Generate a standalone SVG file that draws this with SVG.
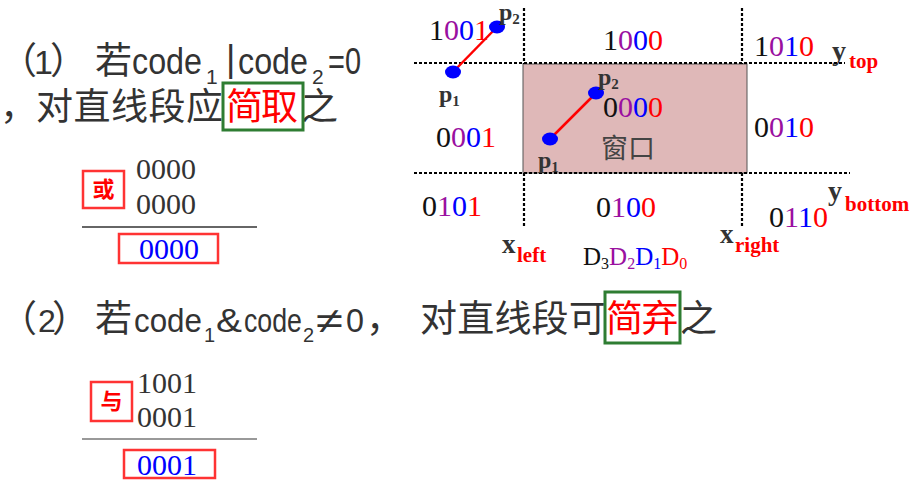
<svg xmlns="http://www.w3.org/2000/svg" width="916" height="493" viewBox="0 0 916 493">
<style>
.cjk{font-family:"Noto Sans CJK SC","Noto Sans",sans-serif;fill:#333}
.lat{font-family:"Liberation Sans",Arial,sans-serif;fill:#333}
.ser{font-family:"Liberation Serif","Times New Roman",serif}
.num{font-family:"Liberation Serif","Times New Roman",serif;font-size:30px}
.bold{font-family:"Liberation Serif","Times New Roman",serif;font-weight:bold;fill:#333}
.red{fill:#ff0000}
.pur{fill:#9a10a0}
.blu{fill:#0000ff}
.blk{fill:#111}
.dash{stroke:#000;stroke-width:2.2;stroke-dasharray:3 2;fill:none}
.seg{stroke:#ff0000;stroke-width:2.5}
.pt{fill:#0000ff}
.gbox{fill:none;stroke:#2e7d32;stroke-width:3}
.rbox{fill:none;stroke:#ff3333;stroke-width:2.5}
</style>

<g id="text-rule1">
  <text class="cjk" x="0" y="74" font-size="37">（</text>
  <text class="lat" x="34" y="74" font-size="34">1</text>
  <text class="cjk" x="50" y="74" font-size="37">）</text>
  <text class="cjk" x="95" y="74" font-size="37">若</text>
  <text class="lat" x="132" y="74" font-size="36" textLength="70" lengthAdjust="spacingAndGlyphs">code</text>
  <text class="lat" x="206" y="84" font-size="21">1</text>
  <text class="lat" x="226" y="71" font-size="36">|</text>
  <text class="lat" x="238" y="74" font-size="36" textLength="70" lengthAdjust="spacingAndGlyphs">code</text>
  <text class="lat" x="312" y="84" font-size="21">2</text>
  <text class="lat" x="328" y="74" font-size="36" textLength="33" lengthAdjust="spacingAndGlyphs">=0</text>
  <text class="cjk" x="0 36 73.5 111 148.5 186" y="120" font-size="37">，对直线段应</text>
  <text class="cjk red" x="226 261" y="120" font-size="37">简取</text>
  <text class="cjk" x="301" y="120" font-size="37">之</text>
  <rect class="gbox" x="223" y="83" width="80" height="47"/>
</g>

<g id="calc-or">
  <rect class="rbox" x="83" y="171" width="41" height="37"/>
  <text class="cjk red" x="103.5" y="197" font-size="22" font-weight="bold" text-anchor="middle">或</text>
  <text class="num" x="136" y="179" fill="#333">0000</text>
  <text class="num" x="136" y="214" fill="#333">0000</text>
  <line x1="82" y1="227" x2="257" y2="227" stroke="#333" stroke-width="1.5"/>
  <rect class="rbox" x="119" y="234" width="99" height="29"/>
  <text class="num blu" x="139" y="259">0000</text>
</g>

<g id="text-rule2">
  <text class="cjk" x="0" y="332" font-size="37">（</text>
  <text class="lat" x="38" y="332" font-size="32">2</text>
  <text class="cjk" x="52" y="332" font-size="37">）</text>
  <text class="cjk" x="95" y="332" font-size="37">若</text>
  <text class="lat" x="134" y="332" font-size="34" textLength="68" lengthAdjust="spacingAndGlyphs">code</text>
  <text class="lat" x="204" y="342" font-size="20">1</text>
  <text class="lat" x="216" y="332" font-size="34" textLength="26" lengthAdjust="spacingAndGlyphs">&amp;</text>
  <text class="lat" x="244" y="332" font-size="34" textLength="58" lengthAdjust="spacingAndGlyphs">code</text>
  <text class="lat" x="303" y="342" font-size="20">2</text>
  <text class="lat" x="316" y="333" font-size="36" textLength="27" lengthAdjust="spacingAndGlyphs">≠</text>
  <text class="lat" x="346" y="332" font-size="34" textLength="18" lengthAdjust="spacingAndGlyphs">0</text>
  <text class="cjk" x="366 420 457.2 494.4 531.6 568.8" y="332" font-size="37">，对直线段可</text>
  <text class="cjk red" x="606 641.5" y="332" font-size="37">简弃</text>
  <text class="cjk" x="680" y="332" font-size="37">之</text>
  <rect class="gbox" x="605" y="292" width="75" height="51"/>
</g>

<g id="calc-and">
  <rect class="rbox" x="91" y="382" width="41" height="39"/>
  <text class="cjk red" x="111.5" y="409" font-size="22" font-weight="bold" text-anchor="middle">与</text>
  <text class="num" x="137" y="393" fill="#333">1001</text>
  <text class="num" x="137" y="427" fill="#333">0001</text>
  <line x1="82" y1="439" x2="257" y2="439" stroke="#999" stroke-width="2"/>
  <rect class="rbox" x="124" y="450" width="91" height="28"/>
  <text class="num blu" x="137" y="475">0001</text>
</g>

<g id="window">
  <rect x="523" y="64" width="224" height="109" fill="#dfb8b8" stroke="#555" stroke-width="1"/>
  <text class="cjk" x="628" y="158" font-size="27" text-anchor="middle" style="fill:#444">窗口</text>
</g>

<g id="connectors">
  <line class="dash" x1="414" y1="63" x2="845" y2="63"/>
  <line class="dash" x1="414" y1="173" x2="850" y2="173"/>
  <line class="dash" x1="524" y1="8" x2="524" y2="64"/>
  <line class="dash" x1="524" y1="173" x2="524" y2="228"/>
  <line class="dash" x1="742" y1="8" x2="742" y2="64"/>
  <line class="dash" x1="742" y1="173" x2="742" y2="228"/>
  <line class="seg" x1="453" y1="72" x2="497" y2="27"/>
  <line class="seg" x1="550" y1="139" x2="596" y2="93"/>
</g>

<g id="points">
  <ellipse class="pt" cx="453" cy="72" rx="8" ry="6.5"/>
  <ellipse class="pt" cx="497" cy="27" rx="8" ry="6.5"/>
  <ellipse class="pt" cx="596" cy="93" rx="8" ry="6.5"/>
  <ellipse class="pt" cx="550" cy="139" rx="8" ry="6.5"/>
  <text class="bold" x="499" y="20" font-size="24">p<tspan font-size="15" dy="4">2</tspan></text>
  <text class="bold" x="439" y="102" font-size="24">p<tspan font-size="15" dy="4">1</tspan></text>
  <text class="bold" x="598" y="85" font-size="24">p<tspan font-size="15" dy="4">2</tspan></text>
  <text class="bold" x="538" y="168" font-size="24">p<tspan font-size="15" dy="4">1</tspan></text>
</g>

<g id="codes">
  <text class="num" x="429" y="40"><tspan class="blk">1</tspan><tspan class="pur">0</tspan><tspan class="blu">0</tspan><tspan class="red">1</tspan></text>
  <text class="num" x="603" y="50"><tspan class="blk">1</tspan><tspan class="pur">0</tspan><tspan class="blu">0</tspan><tspan class="red">0</tspan></text>
  <text class="num" x="754" y="56"><tspan class="blk">1</tspan><tspan class="pur">0</tspan><tspan class="blu">1</tspan><tspan class="red">0</tspan></text>
  <text class="num" x="436" y="147"><tspan class="blk">0</tspan><tspan class="pur">0</tspan><tspan class="blu">0</tspan><tspan class="red">1</tspan></text>
  <text class="num" x="603" y="117"><tspan class="blk">0</tspan><tspan class="pur">0</tspan><tspan class="blu">0</tspan><tspan class="red">0</tspan></text>
  <text class="num" x="754" y="137"><tspan class="blk">0</tspan><tspan class="pur">0</tspan><tspan class="blu">1</tspan><tspan class="red">0</tspan></text>
  <text class="num" x="422" y="216"><tspan class="blk">0</tspan><tspan class="pur">1</tspan><tspan class="blu">0</tspan><tspan class="red">1</tspan></text>
  <text class="num" x="596" y="217"><tspan class="blk">0</tspan><tspan class="pur">1</tspan><tspan class="blu">0</tspan><tspan class="red">0</tspan></text>
  <text class="num" x="769" y="227"><tspan class="blk">0</tspan><tspan class="pur">1</tspan><tspan class="blu">1</tspan><tspan class="red">0</tspan></text>
</g>

<g id="axis-labels">
  <text class="bold" x="832" y="60" font-size="28">y</text>
  <text class="bold red" x="849" y="68" font-size="21">top</text>
  <text class="bold" x="828" y="200" font-size="28">y</text>
  <text class="bold red" x="845" y="211" font-size="21">bottom</text>
  <text class="bold" x="502" y="253" font-size="27">x</text>
  <text class="bold red" x="517" y="262" font-size="21">left</text>
  <text class="bold" x="720" y="243" font-size="27">x</text>
  <text class="bold red" x="735" y="252" font-size="21">right</text>
  <text class="ser" x="583" y="265" font-size="25"><tspan class="blk">D<tspan font-size="16" dy="4">3</tspan></tspan><tspan class="pur" dy="-4">D<tspan font-size="16" dy="4">2</tspan></tspan><tspan class="blu" dy="-4">D<tspan font-size="16" dy="4">1</tspan></tspan><tspan class="red" dy="-4">D<tspan font-size="16" dy="4">0</tspan></tspan></text>
</g>
</svg>
